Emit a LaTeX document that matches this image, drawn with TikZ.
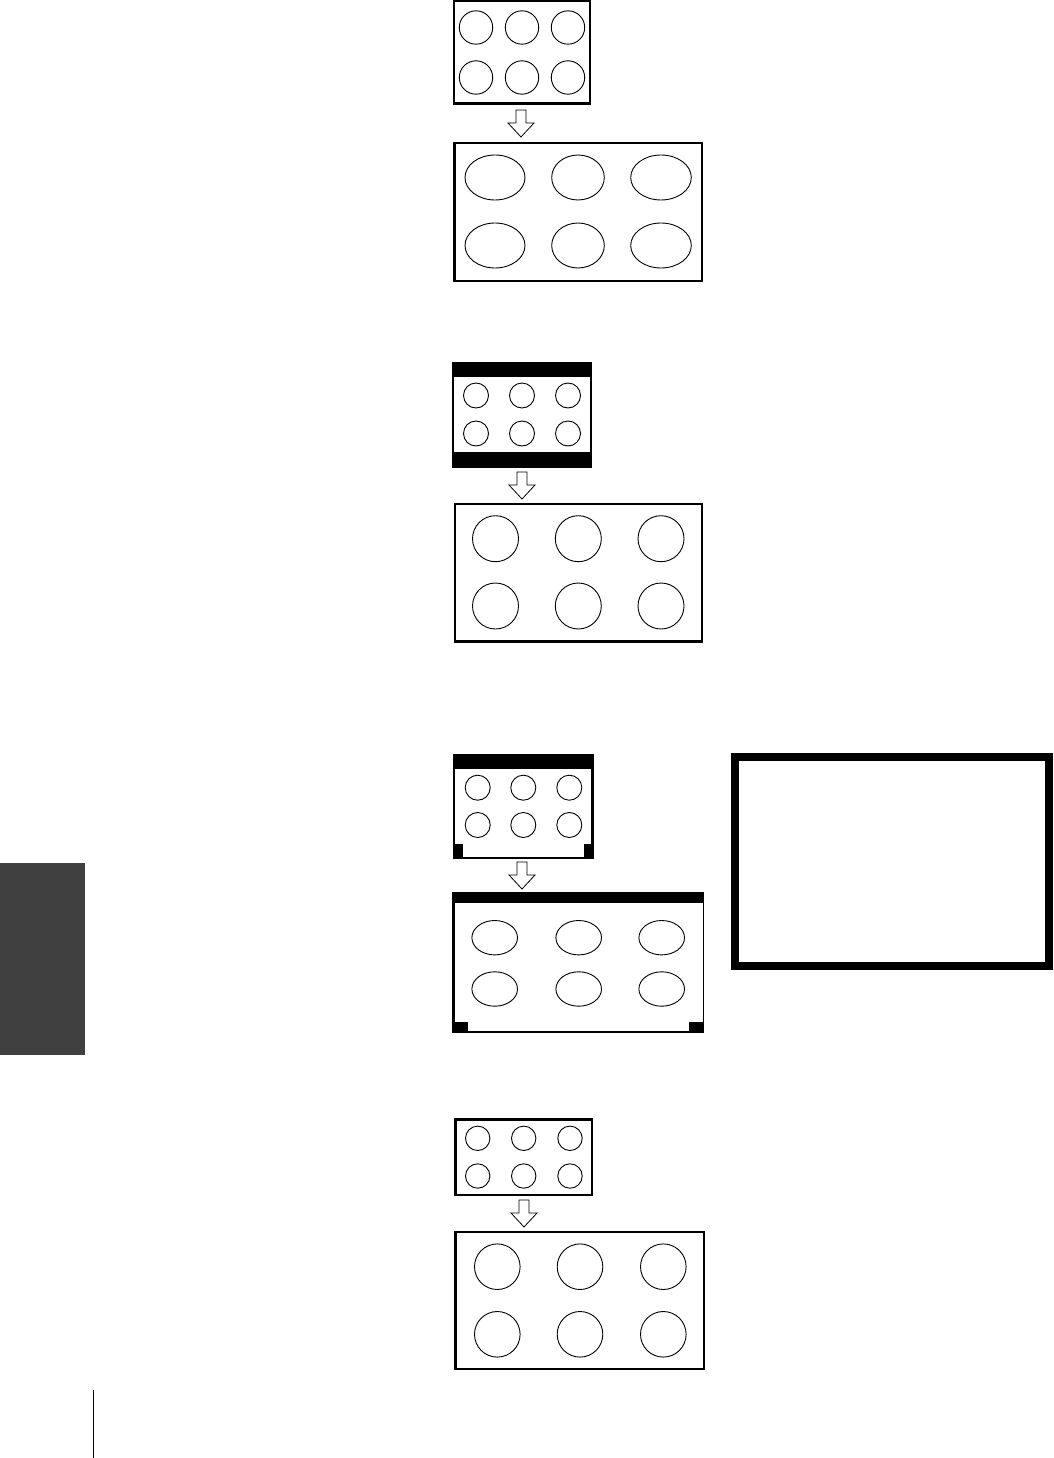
\documentclass[tikz,border=0pt]{standalone}
\usepackage{tikz}
\definecolor{tabgray}{HTML}{404040}

\begin{document}
\begin{tikzpicture}[
  x=1pt, y=-1pt,
  frame/.style={draw, line width=2.4pt},
  ring/.style={draw, line width=0.9pt},
  bar/.style={fill=black},
  hollow/.style={draw, line width=0.8pt, fill=white, line join=miter}
]
\useasboundingbox (0,0) rectangle (1054,1458);

% side tab and page rule
\fill[tabgray] (0,863) rectangle (85,1055);
\draw[line width=1.2pt] (93.3,1390) -- (93.3,1458);

% 1: 4:3 picture -> stretched
\draw[frame] (453.8,1.3) rectangle (589.7,103.7);
\foreach \cx in {476,522,568}
  \foreach \cy in {27.5,77.5}
    \draw[ring] (\cx,\cy) circle (16.7);
\draw[frame] (454.3,143.3) rectangle (701.7,280.7);
\foreach \cx/\rx in {495/30,578/26.3,661/30.3}
  \foreach \cy in {177.5,245.5}
    \draw[ring] (\cx,\cy) ellipse ({\rx} and 22.5);

% 2: letterbox -> zoomed
\draw[draw, line width=2pt] (453,363) rectangle (591,467);
\fill[bar] (452,362) rectangle (592,377);
\fill[bar] (452,452) rectangle (592,468);
\foreach \cx in {476,522,568}
  \foreach \cy in {395.5,433.5}
    \draw[ring] (\cx,\cy) circle (12.5);
\draw[frame] (455.2,503.9) rectangle (701.8,641.5);
\foreach \cx in {495.5,578.3,661}
  \foreach \cy in {538.7,606}
    \draw[ring] (\cx,\cy) circle (23);

% 3: letterbox with corners -> wide
\draw[frame] (453.9,755.5) rectangle (592.5,857.8);
\fill[bar] (452.7,754.3) rectangle (593.7,769);
\fill[bar] (452.7,844) rectangle (462.7,859);
\fill[bar] (584,844) rectangle (593.7,859);
\foreach \cx in {477.7,523.3,569.3}
  \foreach \cy in {787.7,825}
    \draw[ring] (\cx,\cy) circle (12.5);
\fill[bar] (452.3,891.7) rectangle (704.3,903);
\draw[line width=2.6pt] (453.6,895) -- (453.6,1032) -- (703.5,1032);
\draw[line width=1.2pt] (703.7,895) -- (703.7,1033.3);
\fill[bar] (452.3,1021.7) rectangle (467.7,1033.3);
\fill[bar] (689.3,1021.7) rectangle (704.3,1033.3);
\foreach \cx in {494.7,578.7,661.7}
  \foreach \cy in {937.7,989}
    \draw[ring] (\cx,\cy) ellipse (22.8 and 17.2);

% empty screen frame
\draw[line width=8pt] (735,757.3) rectangle (1049.3,966);

% 4: picture -> full
\draw[frame] (455.5,1119.5) rectangle (592.1,1194.8);
\foreach \cx in {477.7,523.7,570}
  \foreach \cy in {1138.3,1176}
    \draw[ring] (\cx,\cy) circle (12.2);
\draw[frame] (455.5,1231.9) rectangle (703.8,1368.8);
\foreach \cx in {497.3,580,663.3}
  \foreach \cy in {1266.7,1334.3}
    \draw[ring] (\cx,\cy) circle (22.8);

% hollow down arrows
\foreach \ax/\ay in {521/110,522/472,522/862,524/1200}
  \draw[hollow] (\ax-5,\ay) -- ++(10,0) -- ++(0,13) -- ++(8,0)
    -- (\ax,\ay+27) -- (\ax-13,\ay+13) -- (\ax-5,\ay+13) -- cycle;
\end{tikzpicture}
\end{document}
